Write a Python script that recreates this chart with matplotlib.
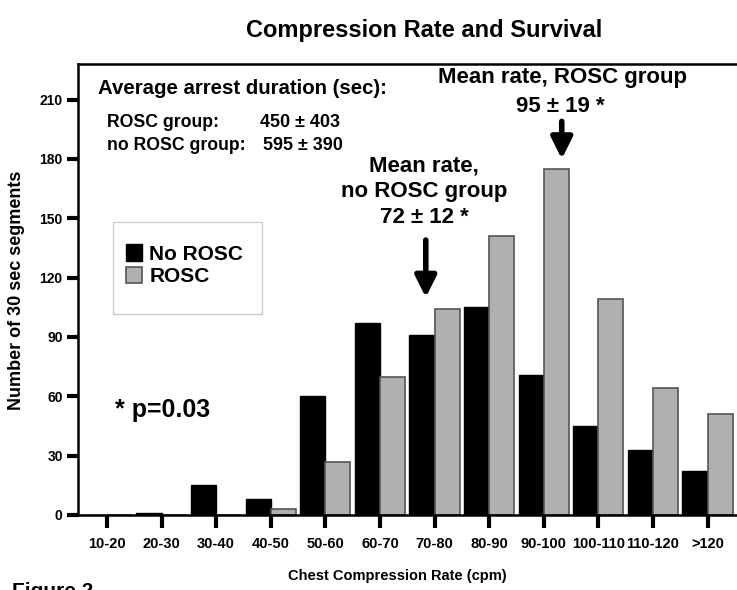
import matplotlib.pyplot as plt
import numpy as np
from matplotlib.patches import Rectangle

plt.rcParams["font.family"] = ["Liberation Sans", "DejaVu Sans"]
plt.rcParams["font.weight"] = "bold"

# segments per compression-rate bin
rate_bins = ["10-20", "20-30", "30-40", "40-50", "50-60", "60-70",
             "70-80", "80-90", "90-100", "100-110", "110-120", ">120"]
no_rosc = [0, 1, 15, 8, 60, 97, 91, 105, 71, 45, 33, 22]
rosc = [0, 0, 0, 3, 27, 70, 104, 141, 175, 109, 64, 51]
y_ticks = [0, 30, 60, 90, 120, 150, 180, 210]

W, H = 737, 590
fig = plt.figure(figsize=(W / 100, H / 100), dpi=100)


def fx(x):
    return x / W


def fy(y):
    return 1 - y / H


ax = fig.add_axes([fx(78), fy(515), 1 - fx(78), fy(64) - fy(515)])

x = np.arange(len(rate_bins))
w = 0.46
ax.bar(x - w / 2, no_rosc, width=w, color="black", edgecolor="black", lw=1, label="No ROSC")
ax.bar(x + w / 2, rosc, width=w, color="#b0b0b0", edgecolor="#555555", lw=1.2, label="ROSC")

ax.set_xlim(-0.53, 11.54)
ax.set_ylim(0, 228)
ax.set_xticks(x)
ax.set_xticklabels(rate_bins, fontsize=10.5, fontweight="bold")
ax.set_yticks(y_ticks)
ax.set_yticklabels([str(v) for v in y_ticks], fontsize=10, fontweight="bold")
ax.tick_params(axis="x", length=9, width=3, pad=7)
ax.tick_params(axis="y", length=8, width=3, pad=3)
for side in ["left", "bottom", "top"]:
    ax.spines[side].set_linewidth(1.8)
ax.spines["right"].set_visible(False)

fig.text(fx(424), fy(31), "Compression Rate and Survival", fontsize=17,
         fontweight="bold", ha="center", va="center")
fig.text(fx(288), fy(576), "Chest Compression Rate (cpm)", fontsize=10.5,
         fontweight="bold", ha="left", va="center")
fig.text(fx(17), fy(290), "Number of 30 sec segments", fontsize=13,
         fontweight="bold", ha="center", va="center", rotation=90)
fig.text(fx(12), fy(601), "Figure 2", fontsize=15, fontweight="bold",
         ha="left", va="bottom")

# arrest duration summary
fig.text(fx(98), fy(89), "Average arrest duration (sec):", fontsize=14.7,
         fontweight="bold", ha="left", va="center")
fig.text(fx(107), fy(123), "ROSC group:", fontsize=12.7, fontweight="bold", ha="left", va="center")
fig.text(fx(260), fy(123), "450 ± 403", fontsize=13, fontweight="bold", ha="left", va="center")
fig.text(fx(107), fy(145), "no ROSC group:", fontsize=12.7, fontweight="bold", ha="left", va="center")
fig.text(fx(263), fy(145), "595 ± 390", fontsize=13, fontweight="bold", ha="left", va="center")

fig.text(fx(115), fy(410), "* p=0.03", fontsize=18, fontweight="bold",
         ha="left", va="center")

# mean rate callouts
fig.text(fx(562), fy(77), "Mean rate, ROSC group", fontsize=16,
         fontweight="bold", ha="center", va="center")
fig.text(fx(560), fy(107), "95 ± 19 *", fontsize=16,
         fontweight="bold", ha="center", va="center")
fig.text(fx(424), fy(192), "Mean rate,\nno ROSC group\n72 ± 12 *", fontsize=16,
         fontweight="bold", ha="center", va="center", linespacing=1.3)

arrow = dict(arrowstyle="-|>", lw=4, color="black", mutation_scale=32, shrinkA=0, shrinkB=0)
ax.annotate("", xy=(8.33, 180), xytext=(8.33, 199), arrowprops=arrow)
ax.annotate("", xy=(5.84, 110), xytext=(5.84, 139), arrowprops=arrow)

# legend in its own box
fig.patches.append(Rectangle((fx(113), fy(314)), fx(262) - fx(113), fy(222) - fy(314),
                             transform=fig.transFigure, fill=False,
                             edgecolor="#cccccc", lw=1))
ax.legend(loc="upper left", bbox_to_anchor=(fx(114), fy(232)),
          bbox_transform=fig.transFigure, frameon=False, fontsize=15,
          handlelength=0.75, handleheight=0.85, handletextpad=0.35,
          labelspacing=0.12, borderpad=0.1)

fig.savefig("out.png", dpi=100)
